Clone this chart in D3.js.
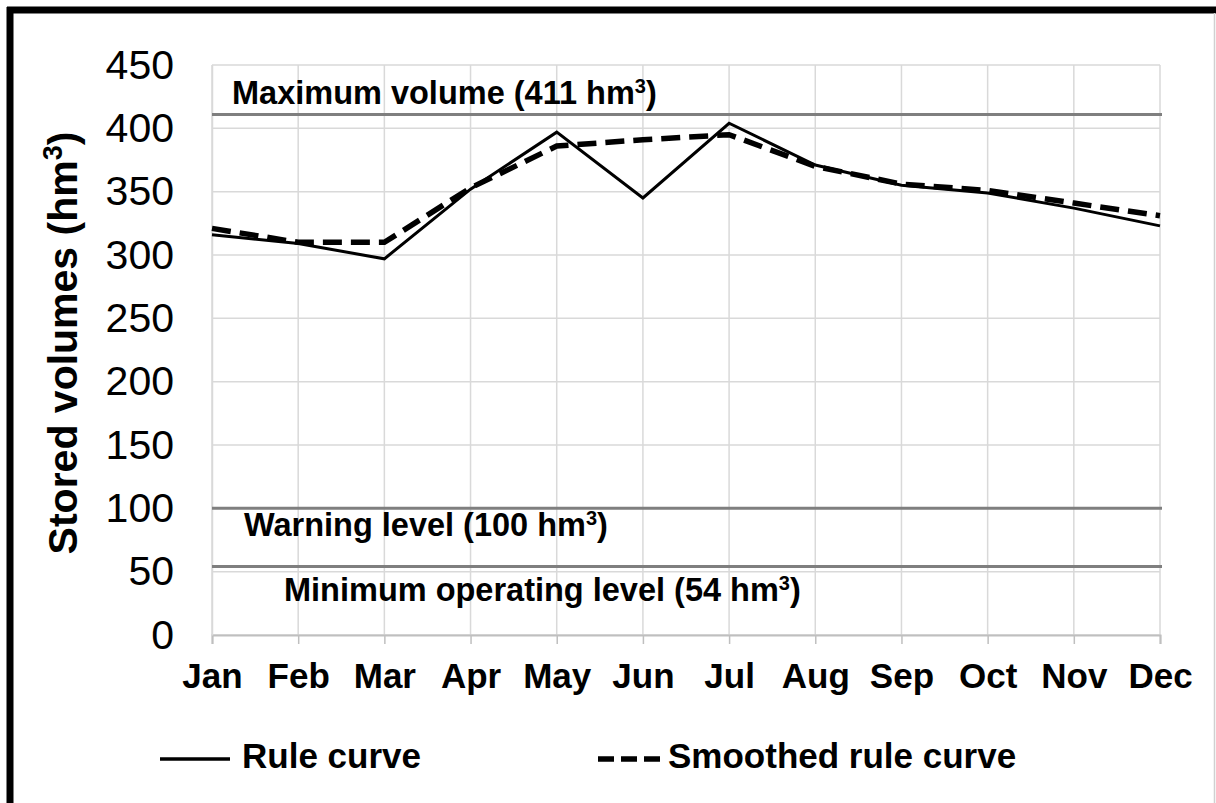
<!DOCTYPE html>
<html>
<head>
<meta charset="utf-8">
<title>Rule curve</title>
<script src="https://d3js.org/d3.v7.min.js"></script>
<style>
  body { margin: 0; background: #fff; }
  text { font-family: "Liberation Sans", Arial, sans-serif; fill: #000; }
</style>
</head>
<body>
<script>
// data
var months = ["Jan","Feb","Mar","Apr","May","Jun","Jul","Aug","Sep","Oct","Nov","Dec"];
var ruleCurve = [316, 309, 297, 352, 397, 345, 404, 371, 355, 349, 337, 323];
var smoothedCurve = [321, 310, 310, 353, 386, 391, 395, 370, 356, 351, 341, 331];
var yTicks = [0, 50, 100, 150, 200, 250, 300, 350, 400, 450];
var levels = [
  {value: 411, label: "Maximum volume (411 hm", x: 232, dy: -10},
  {value: 100, label: "Warning level (100 hm", x: 244, dy: 28},
  {value: 54, label: "Minimum operating level (54 hm", x: 284, dy: 34}
];

var W = 1216, H = 803;
var svg = d3.select("body").append("svg").attr("width", W).attr("height", H);

var x = d3.scalePoint().domain(months).range([212, 1160]);
var y = d3.scaleLinear().domain([0, 450]).range([635, 65]);

// frame
svg.append("rect").attr("x", 0).attr("y", 0).attr("width", W).attr("height", H).attr("fill", "#fff");
svg.append("line").attr("x1", 7).attr("x2", W).attr("y1", 10).attr("y2", 10).attr("stroke", "#000").attr("stroke-width", 7);
svg.append("line").attr("x1", 10).attr("x2", 10).attr("y1", 7).attr("y2", H).attr("stroke", "#000").attr("stroke-width", 7);
svg.append("line").attr("x1", 1214.5).attr("x2", 1214.5).attr("y1", 13).attr("y2", H).attr("stroke", "#d0d0d0").attr("stroke-width", 1.5);

// grid
svg.append("g").selectAll("line").data(yTicks).enter().append("line")
  .attr("x1", 212).attr("x2", 1160)
  .attr("y1", function(d){ return y(d); }).attr("y2", function(d){ return y(d); })
  .attr("stroke", "#d9d9d9").attr("stroke-width", 1.5);
svg.append("g").selectAll("line").data(months).enter().append("line")
  .attr("x1", function(d){ return x(d); }).attr("x2", function(d){ return x(d); })
  .attr("y1", y(450)).attr("y2", y(0))
  .attr("stroke", "#d9d9d9").attr("stroke-width", 1.5);

// axes
var xAxis = d3.axisBottom(x).tickSize(9).tickPadding(19);
var xAxisG = svg.append("g").attr("transform", "translate(0," + y(0) + ")").call(xAxis);
xAxisG.select(".domain").attr("stroke", "#bfbfbf").attr("stroke-width", 2);
xAxisG.selectAll(".tick line").attr("stroke", "#bfbfbf").attr("stroke-width", 1.5);
xAxisG.selectAll(".tick text").attr("font-size", 35).attr("font-weight", "bold")
  .attr("font-family", "Liberation Sans, Arial, sans-serif").attr("fill", "#000");

var yAxis = d3.axisLeft(y).tickValues(yTicks).tickSize(0).tickPadding(38);
var yAxisG = svg.append("g").attr("transform", "translate(212,0)").call(yAxis);
yAxisG.select(".domain").attr("stroke", "#d9d9d9").attr("stroke-width", 1.5);
yAxisG.selectAll(".tick text").attr("font-size", 41)
  .attr("font-family", "Liberation Sans, Arial, sans-serif").attr("fill", "#222");

var title = svg.append("text").attr("transform", "translate(77,343) rotate(-90)")
  .attr("text-anchor", "middle").attr("font-size", 41).attr("font-weight", "bold")
  .text("Stored volumes (hm");
title.append("tspan").attr("baseline-shift", "super").attr("font-size", 27).text("3");
title.append("tspan").text(")");

// reference levels
svg.append("g").selectAll("line").data(levels).enter().append("line")
  .attr("x1", 212).attr("x2", 1162)
  .attr("y1", function(d){ return y(d.value); }).attr("y2", function(d){ return y(d.value); })
  .attr("stroke", "#7f7f7f").attr("stroke-width", 3);
var lab = svg.append("g").selectAll("text").data(levels).enter().append("text")
  .attr("x", function(d){ return d.x; })
  .attr("y", function(d){ return y(d.value) + d.dy; })
  .attr("font-size", 32.5).attr("font-weight", "bold").attr("fill", "#1a1a1a")
  .text(function(d){ return d.label; });
lab.append("tspan").attr("baseline-shift", "super").attr("font-size", 20).text("3");
lab.append("tspan").text(")");

// curves
var line = d3.line().x(function(d, i){ return x(months[i]); }).y(function(d){ return y(d); });
svg.append("path").datum(ruleCurve).attr("d", line)
  .attr("fill", "none").attr("stroke", "#000").attr("stroke-width", 3);
svg.append("path").datum(smoothedCurve).attr("d", line)
  .attr("fill", "none").attr("stroke", "#000").attr("stroke-width", 5.5).attr("stroke-dasharray", "19,9");

// legend
var legend = [
  {label: "Rule curve", x: 160, dash: null, w: 3.5},
  {label: "Smoothed rule curve", x: 598, dash: "16,7", w: 5.5}
];
var lg = svg.append("g").selectAll("g").data(legend).enter().append("g")
  .attr("transform", function(d){ return "translate(" + d.x + ",759)"; });
lg.append("line").attr("x1", 0).attr("x2", function(d){ return d.dash ? 62 : 70; }).attr("y1", 0).attr("y2", 0)
  .attr("stroke", "#000").attr("stroke-width", function(d){ return d.w; })
  .attr("stroke-dasharray", function(d){ return d.dash; });
lg.append("text").attr("x", function(d){ return d.dash ? 70 : 82; }).attr("y", 9).attr("font-size", 35).attr("font-weight", "bold")
  .text(function(d){ return d.label; });
</script>
</body>
</html>
